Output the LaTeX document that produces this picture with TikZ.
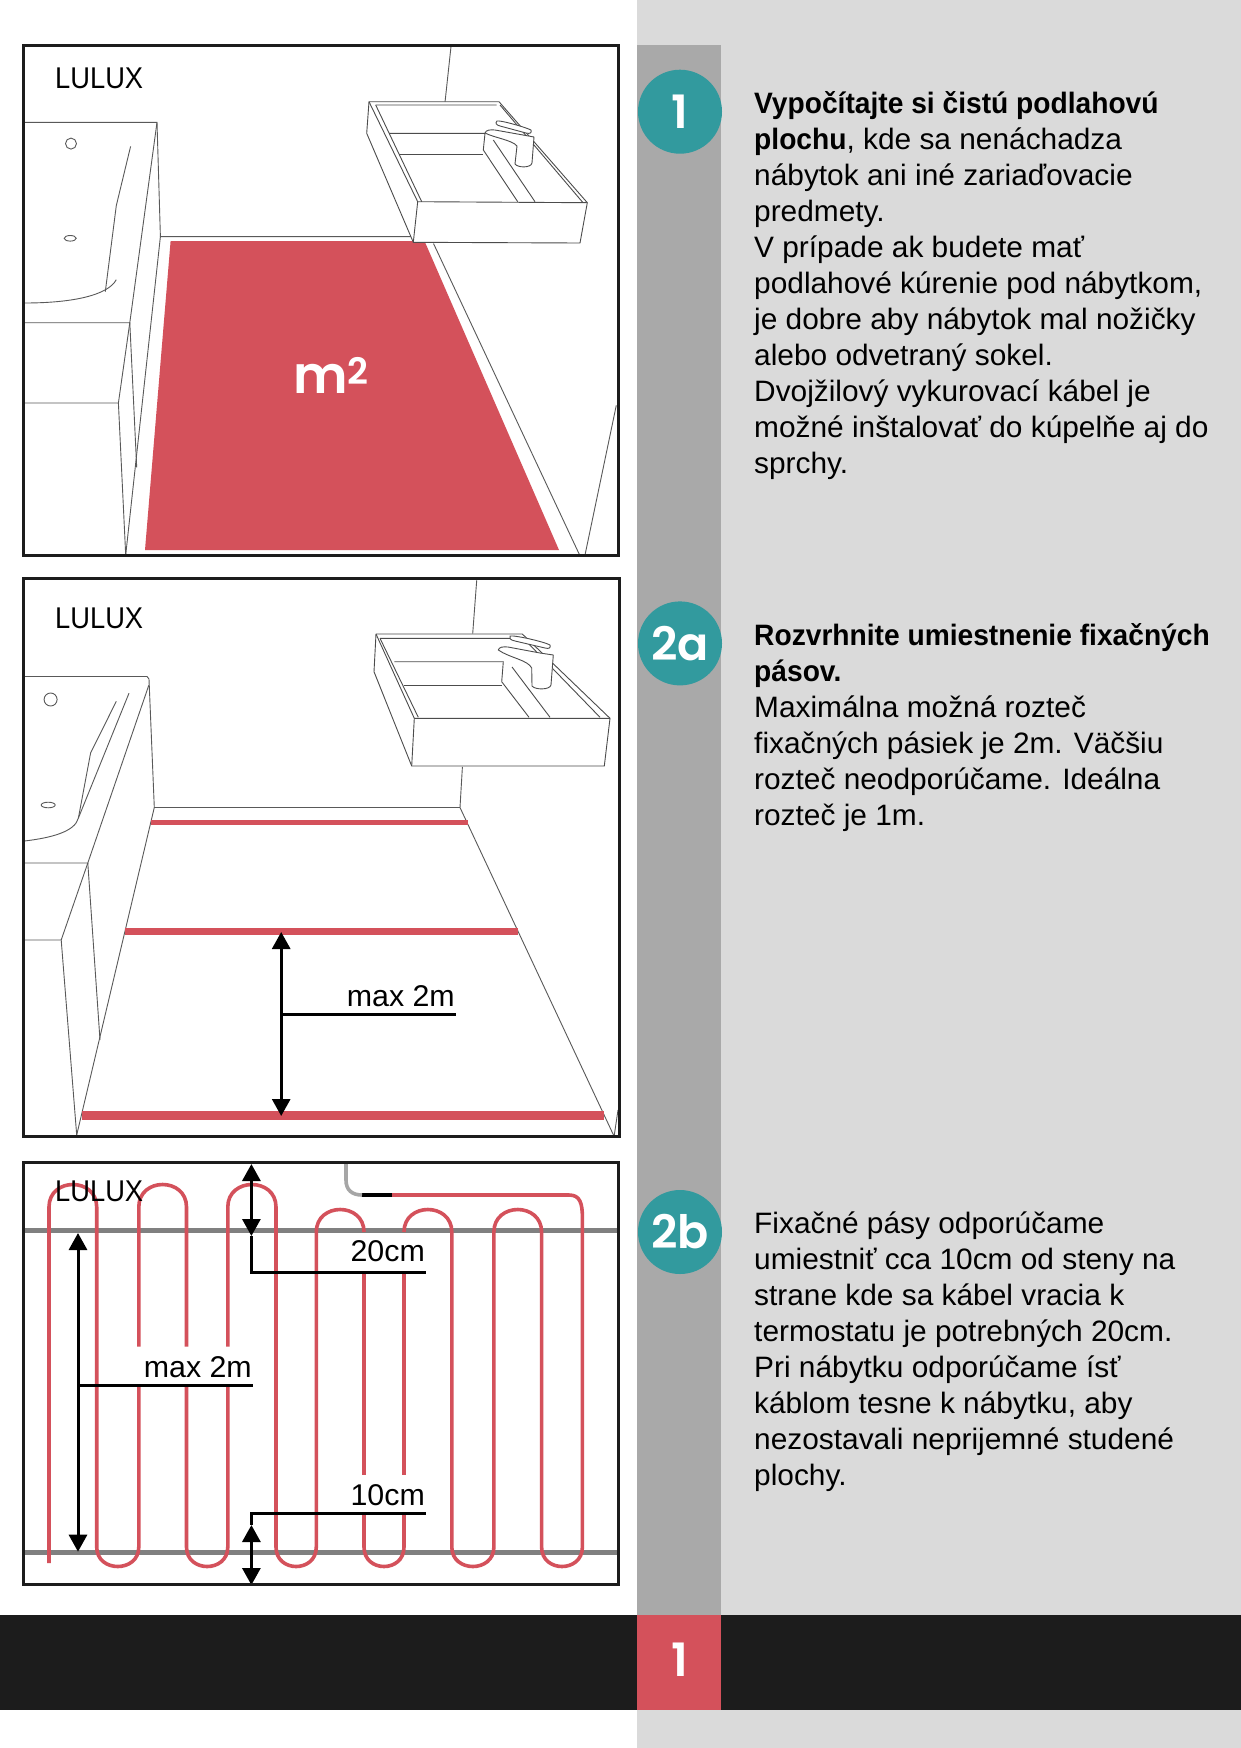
\documentclass[tikz,border=0pt]{standalone}
\usepackage{fontspec}
\setmainfont[FakeStretch=1.012, BoldFeatures={FakeStretch=0.955}]{Liberation Sans}
\newfontfamily\brandfont[FakeStretch=0.91]{Liberation Sans}
\newfontfamily\badgefont[UprightFont=* SemiBold]{Poppins}
\usepackage{xcolor}
\usetikzlibrary{positioning,arrows.meta}

\definecolor{lxred}{HTML}{D4515B}
\definecolor{lxteal}{HTML}{329A9E}
\definecolor{lxpanel}{HTML}{DADADA}
\definecolor{lxcolumn}{HTML}{A9A9A9}
\definecolor{lxblack}{HTML}{1C1C1C}

\tikzset{
  frameline/.style={draw=lxblack, line width=3pt},
  thinline/.style={draw=black!65, line width=0.9pt},
  sinkline/.style={draw=black!70, line width=0.9pt, line join=round},
  redband/.style={draw=lxred},
  cable/.style={draw=lxred, line width=3.6pt},
  railbar/.style={draw=black!50, line width=4.6pt},
  dimline/.style={draw=black, line width=3pt},
  dimarrow/.style={dimline, {Triangle[width=18pt,length=17pt]}-{Triangle[width=18pt,length=17pt]}},
  brand/.style={font=\brandfont\fontsize{30}{36}\selectfont, anchor=base west, inner sep=0pt},
  dimlabel/.style={font=\fontsize{30}{36}\selectfont, anchor=base east, inner sep=0pt},
  bodytext/.style={font=\fontsize{29.5}{36}\selectfont, anchor=north west, align=left, inner sep=0pt},
  badge/.style={circle, fill=lxteal, minimum size=84pt, inner sep=0pt, text=white,
    font=\badgefont\fontsize{46}{46}\selectfont},
}

% cable turns, the path stands on the first leg when they are called
\newcommand{\topturn}[2]{.. controls (#1,1177) and (#2,1177) .. (#2,1207)}
\newcommand{\lowturn}[2]{.. controls (#1,1573) and (#2,1573) .. (#2,1547)}
\newcommand{\smallturn}[2]{.. controls (#1,1202) and (#2,1202) .. (#2,1232)}

\begin{document}
\begin{tikzpicture}[x=1pt, y=-1pt]
  \useasboundingbox (0,0) rectangle (1241,1748);
  \fill[white] (0,0) rectangle (1241,1748);

  % right side
  \fill[lxpanel] (637,0) rectangle (1241,1748);
  \fill[lxcolumn] (637,44.5) rectangle (721,1615);
  \fill[lxblack] (0,1615) rectangle (1241,1710);
  \fill[lxred] (637,1615) rectangle (721,1710);
  \node[font=\badgefont\fontsize{46}{46}\selectfont, text=white, inner sep=0pt] (pagenum) at (680,1660) {1};

  \node[badge] (stepone) at (680,111.7) {1};
  \node[badge] (steptwoa) at (680,643.4) {2a};
  \node[badge] (steptwob) at (680,1232) {2b};

  \node[bodytext] (textone) at (754,91.7) {\textbf{Vypočítajte si čistú podlahovú}\\
    \textbf{plochu}, kde sa nenáchadza\\
    nábytok ani iné zariaďovacie\\
    predmety.\\
    V prípade ak budete mať\\
    podlahové kúrenie pod nábytkom,\\
    je dobre aby nábytok mal nožičky\\
    alebo odvetraný sokel.\\
    Dvojžilový vykurovací kábel je\\
    možné inštalovať do kúpelňe aj do\\
    sprchy.};
  \node[bodytext] (texttwoa) at (754,623.4) {\textbf{Rozvrhnite umiestnenie fixačných}\\
    \textbf{pásov.}\\
    Maximálna možná rozteč\\
    fixačných pásiek je 2m. Väčšiu\\
    rozteč neodporúčame. Ideálna\\
    rozteč je 1m.};
  \node[bodytext] (texttwob) at (754,1211.1) {Fixačné pásy odporúčame\\
    umiestniť cca 10cm od steny na\\
    strane kde sa kábel vracia k\\
    termostatu je potrebných 20cm.\\
    Pri nábytku odporúčame ísť\\
    káblom tesne k nábytku, aby\\
    nezostavali neprijemné studené\\
    plochy.};

  % panel 1: floor area
  \fill[lxred] (170.6,241) -- (424.5,241) -- (559,550) -- (145,550) -- cycle;
  \draw[thinline] (451,46.5) -- (445,102.3);
  \draw[thinline] (24.5,122.3) -- (157,122.3) -- (160.4,236.6) -- (412,236.6);
  \draw[thinline] (157,122.3) -- (129.8,322.7) -- (24.5,322.7);
  \draw[thinline] (129.8,322.7) -- (118.4,403) -- (24.5,403);
  \draw[thinline] (118.4,403) -- (125.7,555);
  \draw[thinline] (129.8,322.7) -- (136.7,467.3);
  \draw[thinline] (160.4,236.6) -- (125.7,555);
  \draw[thinline] (130.6,146.4) -- (116.3,205.6) -- (105.3,291.7);
  \draw[thinline] (24.5,303) .. controls (73.5,303) and (108,295) .. (116.3,279.7);
  \draw[thinline] (71,143.6) circle (5.5);
  \draw[thinline] (70.2,238.3) ellipse (6 and 2.8);
  \draw[thinline] (433.5,243.5) -- (579.6,555);
  \draw[thinline] (616.3,405.3) -- (585,555);

  % panel 1: sink
  \draw[sinkline, fill=white] (369,101.7) -- (499,101.7) -- (587.3,202.7) -- (580,243) -- (413.3,242.3) -- (366.7,133.3) -- cycle;
  \draw[sinkline] (369,101.7) -- (417.7,201.7) -- (587.3,202.7);
  \draw[sinkline] (417.7,201.7) -- (413.3,242.3);
  \draw[sinkline] (375.7,105) -- (496.7,105) (500,105) -- (583,202.7);
  \draw[sinkline] (375.7,105) -- (421.7,201.7);
  \draw[sinkline] (389,133.3) -- (485,133.3) -- (483.3,150) -- (517.7,201.7);
  \draw[sinkline] (399.3,154) -- (483.3,154);
  \draw[sinkline] (493.3,140) -- (535,201.7);
  \draw[sinkline, fill=white] (485,133) .. controls (486,130) and (490,129.5) .. (495,130) -- (523,135) -- (534,137) -- (532,163)
    .. controls (531,168) and (518,168) .. (515,164) -- (517,146) .. controls (512,140) and (495,138) .. (485,133) -- cycle;
  \draw[sinkline, fill=white] (497,121) .. controls (500,120) and (525,127) .. (531,130) .. controls (532,133) and (530,134) .. (526,133)
    -- (500,126) .. controls (496,125) and (495,123) .. (497,121) -- cycle;

  \node[font=\badgefont\fontsize{52}{56}\selectfont, text=white, inner sep=0pt] (areamark) at (331,375) {m\textsuperscript{2}};
  \node[brand] (brandone) at (55,88.5) {LULUX};
  \draw[frameline] (23.3,45.5) rectangle (618.4,555.8);

  % panel 2: room
  \draw[thinline] (476.7,580.4) -- (472.7,633.6);
  \draw[thinline] (462.4,766.8) -- (460,807.5);
  \draw[thinline] (24.5,676.5) -- (147,676.5) -- (149,679) -- (154.3,807.5) -- (460,807.5);
  \draw[thinline] (149,684.7) -- (87.8,863) -- (24.5,863);
  \draw[thinline] (87.8,863) -- (61.2,940) -- (24.5,940);
  \draw[thinline] (61.2,940) -- (76.7,1135);
  \draw[thinline] (87.8,863) -- (100,1040);
  \draw[thinline] (154.3,807.5) -- (76.7,1135);
  \draw[thinline] (116.3,701.3) -- (90.6,753) -- (78.4,818);
  \draw[thinline] (129,693.2) -- (78.4,818);
  \draw[thinline] (24.5,841) .. controls (50,838) and (75,832) .. (78.4,818);
  \draw[thinline] (50.6,699.5) circle (6.5);
  \draw[thinline] (48.2,805) ellipse (7 and 2.8);
  \draw[thinline] (460,807.5) -- (613.5,1135);
  \draw[thinline] (618,1110) -- (614.3,1135);

  % panel 2: sink
  \draw[sinkline, fill=white] (376,634) -- (522.3,634) -- (610,718.3) -- (604.3,766) -- (411.7,766) -- (374,671.7) -- cycle;
  \draw[sinkline] (376,634) -- (414.3,718.3) -- (610,718.3);
  \draw[sinkline] (414.3,718.3) -- (411.7,766);
  \draw[sinkline] (380,638.3) -- (523.3,638.3) -- (600,717.3);
  \draw[sinkline] (380,638.3) -- (418.3,717.3);
  \draw[sinkline] (394.3,661.7) -- (503.3,661.7) -- (501.7,681.7) -- (529,717.3);
  \draw[sinkline] (404.3,685.3) -- (501.7,685.3);
  \draw[sinkline] (512,667) -- (550,717.3);
  \draw[sinkline, fill=white] (498.3,650) .. controls (499,647) and (503,646.5) .. (508,647) -- (540,653) -- (553.3,655) -- (551,685)
    .. controls (550,690) and (535,690) .. (532,686) -- (531.7,668) .. controls (528,660) and (510,658) .. (498.3,650) -- cycle;
  \draw[sinkline, fill=white] (510,636) .. controls (515,635) and (545,642) .. (550,645) .. controls (551,648) and (549,649) .. (545,648)
    -- (515,641) .. controls (510,640) and (509,638) .. (510,636) -- cycle;

  % panel 2: bands
  \draw[redband, line width=4.5pt] (151,822.3) -- (468,822.3);
  \draw[redband, line width=6.6pt] (124.5,931.5) -- (517.6,931.5);
  \draw[redband, line width=8.5pt] (81.6,1115.7) -- (604,1115.7);

  \coordinate (gaptop) at (281.2,932);
  \coordinate (gapbottom) at (281.2,1116);
  \coordinate (gapmid) at (281.2,1014);
  \coordinate (gapend) at (455.5,1014);
  \draw[dimarrow] (gaptop) -- (gapbottom);
  \draw[dimline] (gapmid) -- (gapend);
  \node[dimlabel] (gaplabel) at (455,1006) {max 2m};

  \node[brand] (brandtwo) at (55,628.5) {LULUX};
  \draw[frameline] (23.3,578.7) rectangle (619.2,1136);

  % panel 3: rails
  \draw[railbar] (24,1230.7) -- (618,1230.7);
  \draw[railbar] (24,1552.3) -- (618,1552.3);

  % panel 3: cable, left part
  \draw[cable] (49,1563) -- (49,1207) \topturn{49}{96.7} -- (96.7,1547) \lowturn{96.7}{138.8} -- (138.8,1385.7);
  \draw[cable] (138.8,1346.7) -- (138.8,1207) \topturn{138.8}{186.5} -- (186.5,1346.7);
  \draw[cable] (186.5,1385.7) -- (186.5,1547) \lowturn{186.5}{227.8} -- (227.8,1385.7);
  \draw[cable] (227.8,1346.7) -- (227.8,1207) \topturn{227.8}{276} -- (276,1547) \lowturn{276}{316.3}
    -- (316.3,1232) \smallturn{316.3}{364};
  % right part
  \draw[cable] (364,1274) -- (364,1475);
  \draw[cable] (404,1274) -- (404,1475);
  \draw[cable] (364,1513) -- (364,1547) \lowturn{364}{404} -- (404,1513);
  \draw[cable] (404,1232) \smallturn{404}{451.8} -- (451.8,1547) \lowturn{451.8}{493.9}
    -- (493.9,1232) \smallturn{493.9}{541.6} -- (541.6,1547) \lowturn{541.6}{582.4}
    -- (582.4,1218) .. controls (582.4,1203) and (580,1195) .. (569,1195) -- (392,1195);
  \draw[draw=black, line width=3.6pt] (392,1195) -- (362,1195);
  \draw[draw=black!35, line width=3.6pt] (362,1195) .. controls (352,1195) and (346,1190) .. (346,1180) -- (346,1163);

  \coordinate (maxtop) at (78,1233);
  \coordinate (maxbottom) at (78,1551.7);
  \coordinate (maxmid) at (78,1385.3);
  \coordinate (maxend) at (253,1385.3);
  \draw[dimarrow] (maxtop) -- (maxbottom);
  \draw[dimline] (maxmid) -- (maxend);
  \node[dimlabel] (maxlabel) at (252,1377.5) {max 2m};

  \coordinate (wallfar) at (251.4,1164);
  \coordinate (wallrail) at (251.4,1236);
  \coordinate (wallknee) at (251.4,1272.3);
  \coordinate (wallend) at (425.7,1272.3);
  \draw[dimarrow] (wallfar) -- (wallrail);
  \draw[dimline] (wallrail) -- (wallknee) -- (wallend);
  \node[dimlabel] (walllabel) at (425,1261) {20cm};

  \coordinate (nearend) at (425.7,1513.3);
  \coordinate (nearknee) at (251.4,1513.3);
  \coordinate (nearrail) at (251.4,1525);
  \coordinate (nearfar) at (251.4,1585);
  \draw[dimline] (nearend) -- (nearknee) -- (nearrail);
  \draw[dimarrow] (nearrail) -- (nearfar);
  \node[dimlabel] (nearlabel) at (425,1505.5) {10cm};

  \node[brand] (brandthree) at (55,1201.7) {LULUX};
  \draw[frameline] (23.3,1162.3) rectangle (618.8,1584.3);
\end{tikzpicture}
\end{document}
